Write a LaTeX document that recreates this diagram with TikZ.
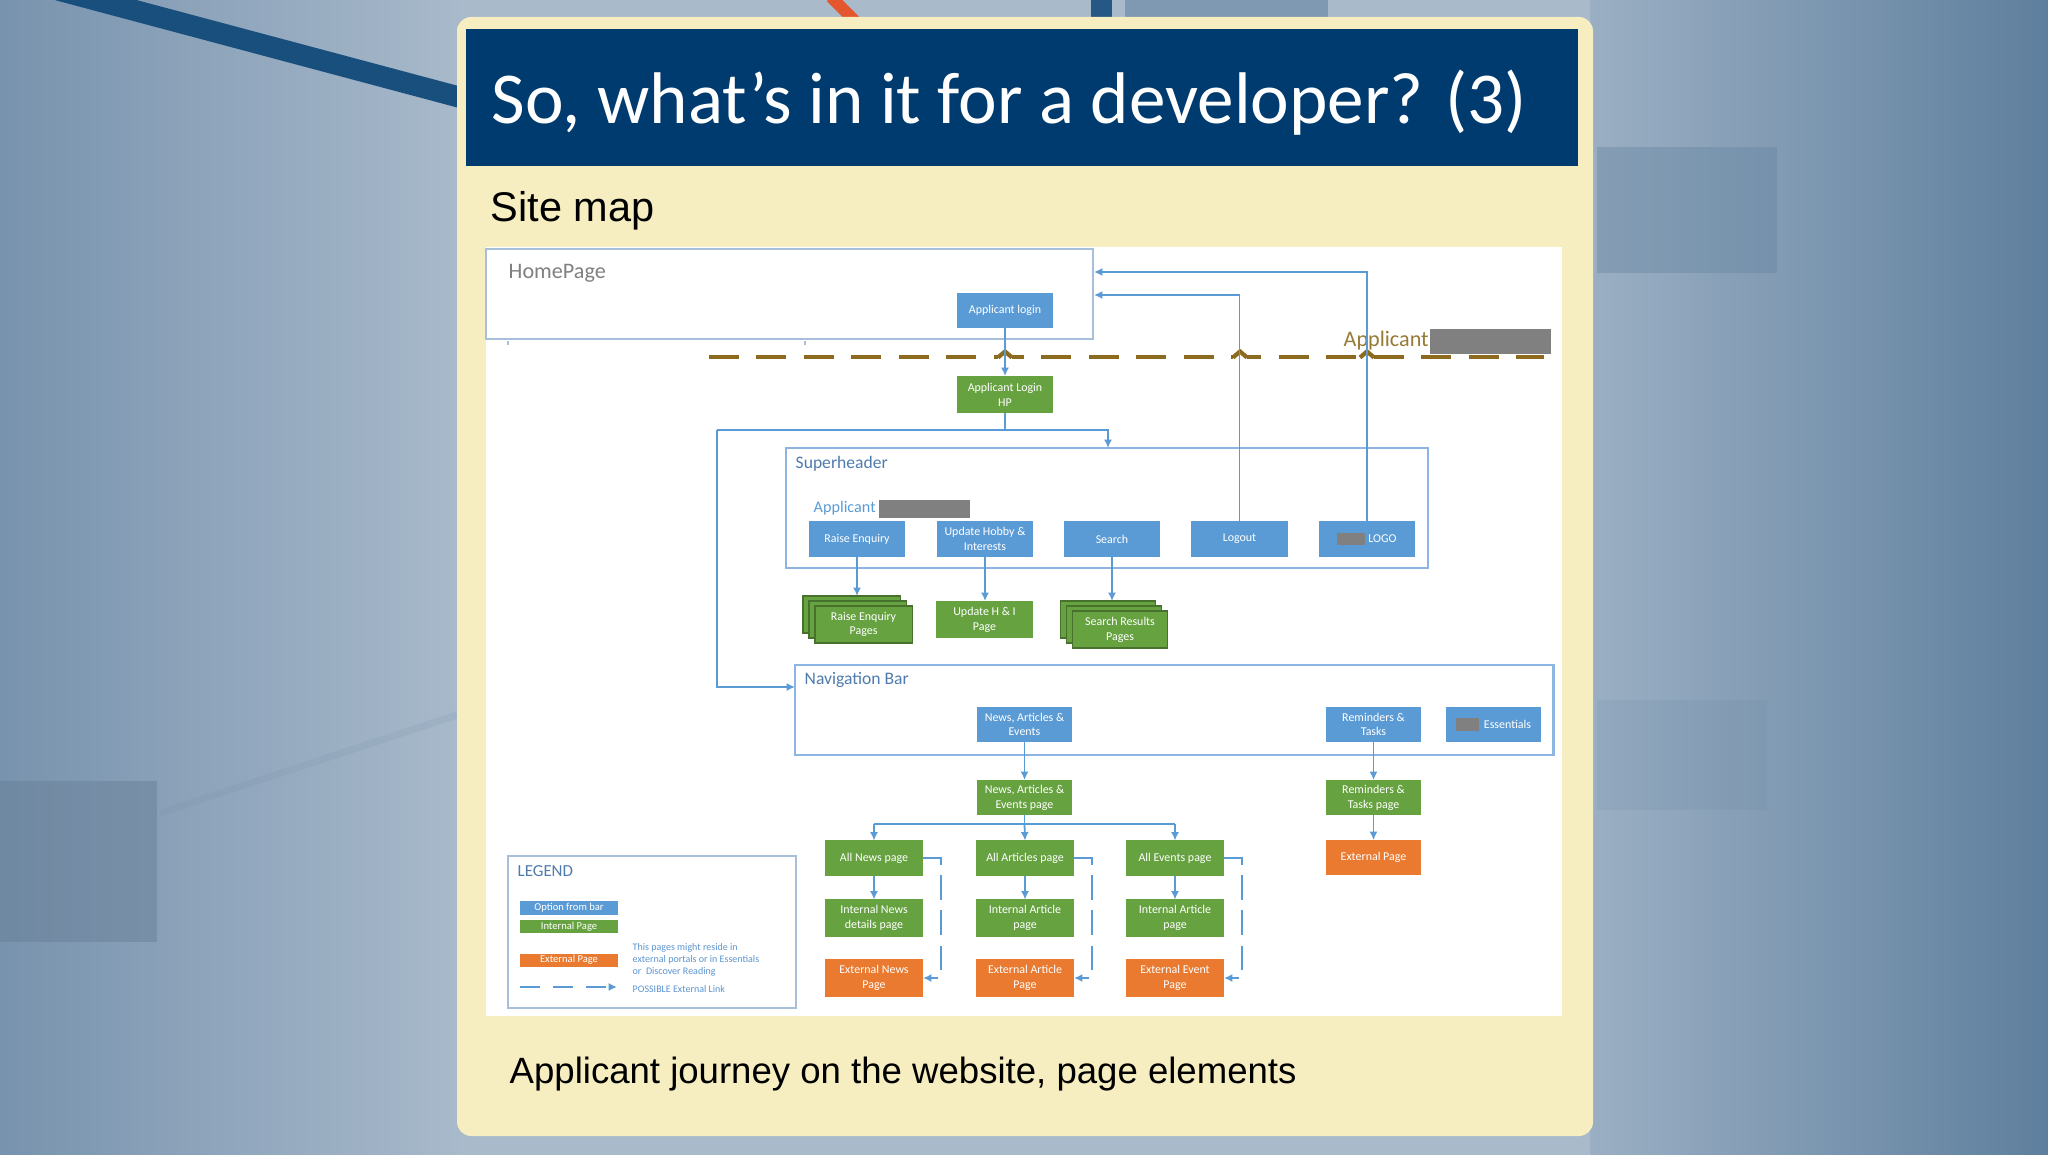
\documentclass[tikz,border=0pt]{standalone}
\usepackage{fontspec}
\setmainfont{Carlito}
\newfontfamily\arialfam{Liberation Sans}
\usetikzlibrary{arrows.meta}
\newcommand\fsz[1]{\fontsize{#1}{#1}\selectfont}
\newcommand\boxfont{\fontsize{3.4}{4.2}\selectfont}
\definecolor{bgL}{HTML}{7893AE}
\definecolor{bgLM}{HTML}{A9BACB}
\definecolor{bgRM}{HTML}{9CB0C4}
\definecolor{bgR}{HTML}{5E7F9D}
\definecolor{panel}{HTML}{F6EDC0}
\definecolor{titlebg}{HTML}{003B6F}
\definecolor{boxblue}{HTML}{5B9BD5}
\definecolor{boxgreen}{HTML}{66A240}
\definecolor{boxorange}{HTML}{E97A2F}
\definecolor{linkblue}{HTML}{5B9BD5}
\definecolor{grpline}{HTML}{8DB4E2}
\definecolor{hpline}{HTML}{A7BFDA}
\definecolor{hptext}{HTML}{808080}
\definecolor{grptext}{HTML}{4F7BAE}
\definecolor{brownd}{HTML}{8C6B1F}
\definecolor{redact}{HTML}{808080}
\definecolor{legtext}{HTML}{5B94D0}
\begin{document}
\begin{tikzpicture}[x=0.01cm,y=-0.01cm,
  bx/.style={draw=none, minimum width=0.96cm, minimum height=0.35cm, inner sep=0pt, outer sep=0pt, align=center, text=white, font=\boxfont},
  bluebox/.style={bx, fill=boxblue},
  greenbox/.style={bx, fill=boxgreen},
  orangebox/.style={bx, fill=boxorange},
  stackbox/.style={greenbox, draw=boxgreen!70!black, line width=0.3pt},
  grp/.style={draw=grpline, line width=0.6pt, inner sep=0pt, outer sep=0pt, fill=none},
  plainln/.style={draw=linkblue, line width=0.5pt},
  conn/.style={plainln, -{Latex[length=2.4pt,width=2.3pt]}},
  dconn/.style={conn, dash pattern=on 7pt off 3pt},
  lgbox/.style={draw=none, minimum width=0.98cm, minimum height=0.13cm, inner sep=0pt, outer sep=0pt, text=white, font=\fsz{3}},
  grplabel/.style={anchor=base west, text=grptext, font=\fsz{5}, inner sep=0pt},
]
\useasboundingbox (0,0) rectangle (2048,1155);
% ---------- background ----------
\shade[left color=bgL, right color=bgLM] (0,0) rectangle (470,1155);
\shade[left color=bgRM, right color=bgR] (1580,0) rectangle (2048,1155);
\fill[bgLM] (460,0) rectangle (1590,1155);
\fill[fill=bgL!85!black, opacity=0.45] (0,781) rectangle (157,942);
\fill[fill=bgR, opacity=0.35] (1597,147) rectangle (1777,273);
\fill[fill=bgR, opacity=0.12] (1597,700) rectangle (1767,810);
\draw[bgL!90!black, opacity=0.12, line width=2pt] (160,813) -- (457,715);
\fill[fill=bgR!80!white] (1125,0) rectangle (1328,17);
\fill[fill=titlebg!85!white] (1091,0) rectangle (1112,17);
\draw[line width=3.4pt, draw={rgb,255:red,228;green,87;blue,46}] (831,-3) -- (856,22);
\draw[line width=6pt, draw=titlebg!90!white] (58,-10) -- (470,100);
% ---------- slide panel ----------
\fill[panel, rounded corners=4pt] (457,17) rectangle (1593,1136);
\fill[titlebg] (466,29) rectangle (1578,166);
\node[anchor=base west, text=white, font=\fsz{20.8}, inner sep=0pt] (title) at (491,124) {So, what's in it for a developer? (3)};
\node[anchor=base west, text=black, font=\arialfam\fsz{11.8}, inner sep=0pt] (sitemap) at (490,222) {Site map};
\fill[white] (486,247) rectangle (1562,1016);
\node[anchor=base west, text=black, font=\arialfam\fsz{10.4}, inner sep=0pt] (caption) at (509,1083) {Applicant journey on the website, page elements};
% ---------- HomePage ----------
\node[grp, draw=hpline, minimum width=6.07cm, minimum height=0.9cm, anchor=north west] (homepage) at (486,249) {};
\draw[hpline, line width=0.5pt] (508,341) -- (508,345) (805,341) -- (805,345);
\node[anchor=base west, text=hptext, font=\fsz{6.3}, inner sep=0pt] (hplabel) at (508,279) {HomePage};
\node[bluebox] (alogin) at (1005,310.5) {Applicant login};
% dashed separator
\coordinate (sepA) at (709,357);
\coordinate (sepB) at (1544,357);
\draw[brownd, line width=1.3pt, dash pattern=on 8.5pt off 5pt] (sepA) -- (sepB);
\node[anchor=base west, text=brownd!90!white, font=\fsz{6.3}, inner sep=0pt] (applab) at (1343,347) {Applicant.};
\node[fill=redact, minimum width=1.21cm, minimum height=0.25cm, inner sep=0pt, anchor=north west] (appred) at (1429,328) {};
\foreach \hx in {1005,1240,1367}{
  \fill[white] (\hx-7,353) rectangle (\hx+7,361);
  \draw[brownd, line width=1.2pt] (\hx-7,357.5) -- (\hx,351.5) -- (\hx+7,357.5);
}
\node[greenbox, minimum height=0.37cm] (aloginhp) at (1005,394.5) {Applicant Login\\HP};
% ---------- Superheader ----------
\node[grp, minimum width=6.42cm, minimum height=1.2cm, anchor=north west] (superheader) at (786,448) {};
\node[grplabel] (shlabel) at (795,469) {Superheader};
\node[anchor=base west, text=boxblue, font=\fsz{4.6}, inner sep=0pt] (shapp) at (813,513) {Applicant};
\node[fill=redact, minimum width=0.91cm, minimum height=0.18cm, inner sep=0pt, anchor=north west] (shred) at (878,499) {};
\node[bluebox] (raise) at (857,539) {Raise Enquiry};
\node[bluebox] (hobby) at (985,539) {Update Hobby \&\\Interests};
\node[bluebox] (search) at (1112,539) {Search};
\node[bluebox] (logout) at (1239.5,539) {Logout};
\node[bluebox] (logo) at (1367,539) {\textcolor{redact}{\rule[-0.02cm]{0.28cm}{0.11cm}}\hspace{0.03cm}LOGO};
% stacked pages
\node[stackbox, minimum width=0.97cm, minimum height=0.37cm] (rqb) at (851.5,614.5) {};
\node[stackbox, minimum width=0.97cm, minimum height=0.37cm] (rqm) at (857.5,619.5) {};
\node[stackbox, minimum width=0.97cm, minimum height=0.37cm] (rqf) at (863.5,624.5) {Raise Enquiry\\Pages};
\node[greenbox, minimum width=0.97cm, minimum height=0.37cm] (hip) at (984.5,619.5) {Update H \& I\\Page};
\node[stackbox, minimum width=0.95cm, minimum height=0.37cm] (srb) at (1108,619.5) {};
\node[stackbox, minimum width=0.95cm, minimum height=0.37cm] (srm) at (1114,624.5) {};
\node[stackbox, minimum width=0.95cm, minimum height=0.37cm] (srf) at (1120,629.5) {Search Results\\Pages};
% ---------- Navigation bar ----------
\node[grp, minimum width=7.58cm, minimum height=0.9cm, anchor=north west] (navbar) at (795,665) {};
\node[grplabel] (nblabel) at (804,685) {Navigation Bar};
\node[bluebox, minimum width=0.95cm] (nae) at (1024.5,724.5) {News, Articles \&\\Events};
\node[bluebox, minimum width=0.95cm] (rt) at (1373.5,724.5) {Reminders \&\\Tasks};
\node[bluebox, minimum width=0.95cm] (ess) at (1493.5,724.5) {\textcolor{redact}{\rule[-0.03cm]{0.23cm}{0.13cm}}\hspace{0.05cm}Essentials};
\node[greenbox, minimum width=0.95cm] (naep) at (1024.5,797.5) {News, Articles \&\\Events page};
\node[greenbox, minimum width=0.95cm] (rtp) at (1373.5,797.5) {Reminders \&\\Tasks page};
\node[orangebox, minimum width=0.95cm] (rtext) at (1373.5,857.5) {External Page};
\node[greenbox, minimum width=0.98cm] (allnews) at (874,858) {All News page};
\node[greenbox, minimum width=0.98cm] (allart) at (1025,858) {All Articles page};
\node[greenbox, minimum width=0.98cm] (allev) at (1175,858) {All Events page};
\node[greenbox, minimum width=0.98cm, minimum height=0.37cm] (intnews) at (874,918) {Internal News\\details page};
\node[greenbox, minimum width=0.98cm, minimum height=0.37cm] (intart) at (1025,918) {Internal Article\\page};
\node[greenbox, minimum width=0.98cm, minimum height=0.37cm] (intev) at (1175,918) {Internal Article\\page};
\node[orangebox, minimum width=0.98cm, minimum height=0.37cm] (extnews) at (874,978) {External News\\Page};
\node[orangebox, minimum width=0.98cm, minimum height=0.37cm] (extart) at (1025,978) {External Article\\Page};
\node[orangebox, minimum width=0.98cm, minimum height=0.37cm] (extev) at (1175,978) {External Event\\Page};
% ---------- Legend ----------
\node[grp, draw=hpline, minimum width=2.88cm, minimum height=1.52cm, anchor=north west] (legend) at (508,856) {};
\node[anchor=base west, text=grptext, font=\fsz{4.8}, inner sep=0pt] (leglabel) at (517,876) {LEGEND};
\node[lgbox, fill=boxblue] (lgopt) at (569,908) {Option from bar};
\node[lgbox, fill=boxgreen] (lgint) at (569,926.5) {Internal Page};
\node[lgbox, fill=boxorange] (lgext) at (569,960) {External Page};
\node[anchor=north west, text=legtext, font=\fsz{2.85}, align=left, inner sep=0pt] (lgnote) at (632,943) {This pages might reside in\\[0.6pt]external portals or in Essentials\\[0.6pt]or\ \ Discover Reading};
\coordinate (lgA) at (520,987);
\coordinate (lgB) at (617,987);
\draw[conn, dash pattern=on 5.7pt off 3.7pt] (lgA) -- (lgB);
\node[anchor=base west, text=legtext, font=\fsz{2.85}, inner sep=0pt] (lgpos) at (632,992) {POSSIBLE External Link};
% ---------- connectors ----------
\coordinate (hp1) at (1094,272);
\coordinate (hp2) at (1094,295);
\coordinate (split) at (1005,430);
\coordinate (shin) at (1108,430);
\coordinate (navl) at (717,430);
\coordinate (navarr) at (717,687);
\coordinate (br) at (1024.5,824);
\coordinate (brL) at (874,824);
\coordinate (brR) at (1175,824);
\coordinate (dn1) at (941,858);
\coordinate (dn2) at (1092,858);
\coordinate (dn3) at (1242,858);
\draw[conn] (alogin.south) -- (aloginhp.north);
\draw[plainln] (aloginhp.south) -- (split);
\draw[conn] (navl) -- (shin) -- (shin |- superheader.north);
\draw[conn] (navl) -- (navarr) -- (navbar.west |- navarr);
\draw[conn] (logout.north) -- (logout.north |- hp2) -- (hp2);
\draw[conn] (logo.north) -- (logo.north |- hp1) -- (hp1);
\draw[conn] (raise.south) -- (raise.south |- rqb.north);
\draw[conn] (hobby.south) -- (hobby.south |- hip.north);
\draw[conn] (search.south) -- (search.south |- srb.north);
\draw[conn] (nae.south) -- (naep.north);
\draw[conn] (rt.south) -- (rtp.north);
\draw[conn] (rtp.south) -- (rtext.north);
\draw[plainln] (naep.south) -- (br);
\draw[plainln] (brL) -- (brR);
\draw[conn] (brL) -- (allnews.north);
\draw[conn] (br) -- (allart.north);
\draw[conn] (brR) -- (allev.north);
\draw[conn] (allnews.south) -- (intnews.north);
\draw[conn] (allart.south) -- (intart.north);
\draw[conn] (allev.south) -- (intev.north);
\draw[dconn] (allnews.east) -- (dn1) -- (dn1 |- extnews.east) -- (extnews.east);
\draw[dconn] (allart.east) -- (dn2) -- (dn2 |- extart.east) -- (extart.east);
\draw[dconn] (allev.east) -- (dn3) -- (dn3 |- extev.east) -- (extev.east);
\end{tikzpicture}
\end{document}
